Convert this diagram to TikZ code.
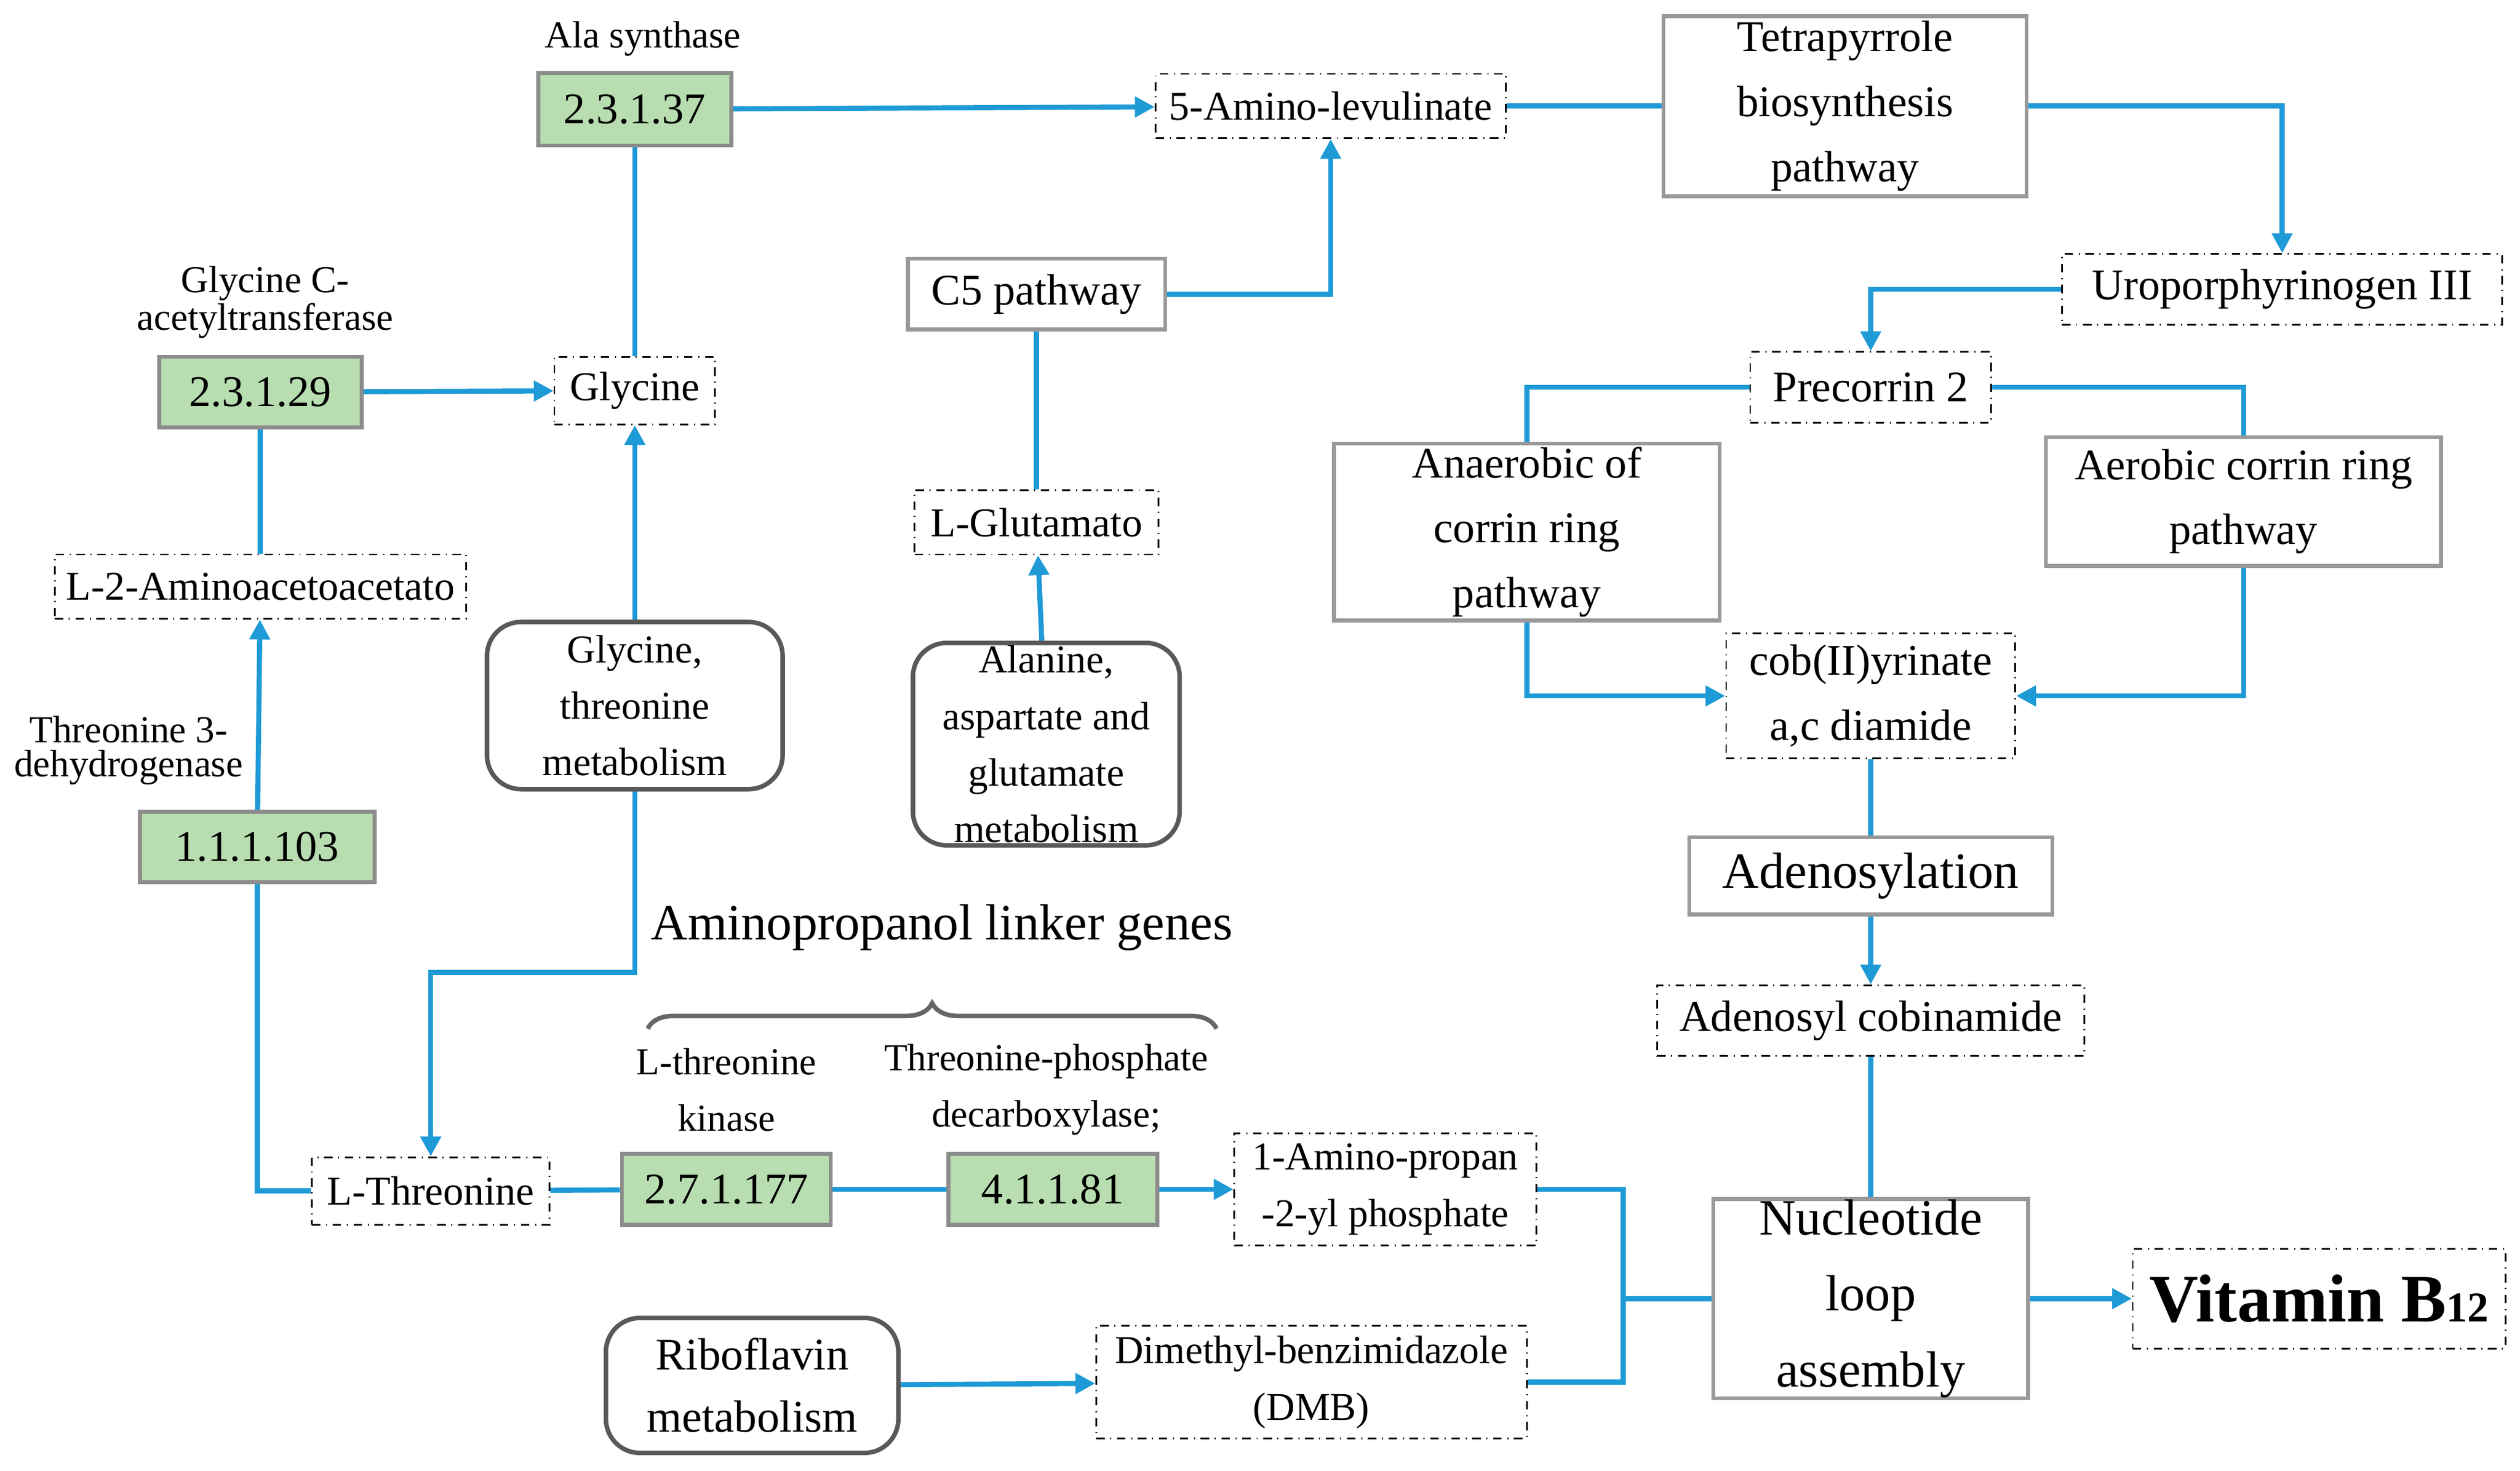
\documentclass[tikz,border=0pt]{standalone}
\usepackage{fontspec}
\setmainfont{Liberation Serif}
\usetikzlibrary{arrows.meta,decorations.pathreplacing}
\definecolor{lblue}{HTML}{1E9AD6}
\definecolor{gfill}{HTML}{B8DDB0}
\begin{document}
\begin{tikzpicture}[x=0.02cm,y=-0.02cm,
 font=\fontsize{14.5}{18.5}\selectfont,
 dd/.style={draw=black,dash dot,line width=0.6pt,align=center,inner sep=0pt},
 sol/.style={draw=black!40,line width=1.4pt,align=center,inner sep=0pt},
 grn/.style={draw=black!45,fill=gfill,line width=1.4pt,align=center,inner sep=0pt,font=\fontsize{15.5}{18}\selectfont},
 rnd/.style={draw=black!65,line width=1.6pt,rounded corners=12pt,align=center,inner sep=0pt},
 lbl/.style={align=center,inner sep=0pt,font=\fontsize{13.5}{12}\selectfont},
 ln/.style={lblue,line width=1.8pt},
 ar/.style={ln,-{Triangle[length=7pt,width=7pt]}}]
\useasboundingbox (0,0) rectangle (1568,915);
\node[lbl] (la) at (400,24) {Ala synthase};
\node[grn,minimum width=2.4cm,minimum height=0.9cm] (e1) at (395,68) {2.3.1.37};
\node[dd,minimum width=4.36cm,minimum height=0.8cm] (a5) at (828,66) {5-Amino-levulinate};
\node[sol,minimum width=4.52cm,minimum height=2.24cm,font=\fontsize{15.5}{23}\selectfont] (tp) at (1148,66) {Tetrapyrrole\\biosynthesis\\pathway};
\node[dd,minimum width=5.48cm,minimum height=0.88cm,font=\fontsize{15.5}{18}\selectfont] (uro) at (1420,180) {Uroporphyrinogen III};
\node[sol,minimum width=3.2cm,minimum height=0.88cm,font=\fontsize{15.5}{18}\selectfont] (c5) at (645,183) {C5 pathway};
\node[lbl] (gl) at (165,188) {Glycine C-\\acetyltransferase};
\node[grn,minimum width=2.52cm,minimum height=0.88cm] (e2) at (162,244) {2.3.1.29};
\node[dd,minimum width=2cm,minimum height=0.84cm] (gly) at (395,243) {Glycine};
\node[dd,minimum width=3cm,minimum height=0.88cm,font=\fontsize{15.5}{18}\selectfont] (p2) at (1164,241) {Precorrin 2};
\node[sol,minimum width=4.8cm,minimum height=2.2cm,font=\fontsize{15.5}{23}\selectfont] (an) at (950,331) {Anaerobic of\\corrin ring\\pathway};
\node[sol,minimum width=4.92cm,minimum height=1.6cm,font=\fontsize{15.5}{23}\selectfont] (ae) at (1396,312) {Aerobic corrin ring\\pathway};
\node[dd,minimum width=3.04cm,minimum height=0.8cm] (lg) at (645,325) {L-Glutamato};
\node[dd,minimum width=5.12cm,minimum height=0.8cm] (l2) at (162,365) {L-2-Aminoacetoacetato};
\node[rnd,minimum width=3.68cm,minimum height=2.08cm,font=\fontsize{14}{20}\selectfont] (gm) at (395,439) {Glycine,\\threonine\\metabolism};
\node[rnd,minimum width=3.32cm,minimum height=2.52cm,font=\fontsize{14}{20}\selectfont] (am) at (651,463) {Alanine,\\aspartate and\\glutamate\\metabolism};
\node[dd,minimum width=3.6cm,minimum height=1.56cm,font=\fontsize{15.5}{23}\selectfont] (cob) at (1164,433) {cob(II)yrinate\\a,c diamide};
\node[lbl] (tl) at (80,467) {Threonine 3-\\dehydrogenase};
\node[grn,minimum width=2.92cm,minimum height=0.88cm] (e3) at (160,527) {1.1.1.103};
\node[sol,minimum width=4.52cm,minimum height=0.96cm,font=\fontsize{18}{20}\selectfont] (ad) at (1164,545) {Adenosylation};
\node[inner sep=0pt,font=\fontsize{18}{20}\selectfont] (apl) at (586,577) {Aminopropanol linker genes};
\draw[black!60,line width=1.6pt,decoration={brace,amplitude=9pt},decorate] (403,640) -- (757,640);
\node[dd,minimum width=5.32cm,minimum height=0.88cm,font=\fontsize{15.5}{18}\selectfont] (adc) at (1164,635) {Adenosyl cobinamide};
\node[lbl,font=\fontsize{13.5}{20}\selectfont] (lk) at (452,678) {L-threonine\\kinase};
\node[lbl,font=\fontsize{13.5}{20}\selectfont] (td) at (651,678) {Threonine-phosphate\\decarboxylase;};
\node[dd,minimum width=2.96cm,minimum height=0.84cm] (lt) at (268,741) {L-Threonine};
\node[grn,minimum width=2.6cm,minimum height=0.88cm] (e4) at (452,740) {2.7.1.177};
\node[grn,minimum width=2.6cm,minimum height=0.88cm] (e5) at (655,740) {4.1.1.81};
\node[dd,minimum width=3.76cm,minimum height=1.4cm,font=\fontsize{14}{20}\selectfont] (ap) at (862,740) {1-Amino-propan\\-2-yl phosphate};
\node[sol,minimum width=3.92cm,minimum height=2.48cm,font=\fontsize{18}{27}\selectfont] (nl) at (1164,808) {Nucleotide\\loop\\assembly};
\node[dd,minimum width=4.64cm,minimum height=1.24cm,font=\bfseries\fontsize{24}{26}\selectfont] (vit) at (1443,808) {Vitamin B{\fontsize{15}{15}\selectfont 12}};
\node[rnd,minimum width=3.64cm,minimum height=1.68cm,font=\fontsize{16}{22}\selectfont] (rb) at (468,862) {Riboflavin\\metabolism};
\node[dd,minimum width=5.36cm,minimum height=1.4cm,font=\fontsize{14}{20}\selectfont] (dmb) at (816,860) {Dimethyl-benzimidazole\\(DMB)};
\coordinate (j) at (1010,808);
\draw[ar] (e1) -- (a5);
\draw[ln] (a5) -- (tp);
\draw[ar] (tp.east) -| (uro.north);
\draw[ar] (uro.west) -| (p2.north);
\draw[ar] (c5.east) -| (a5.south);
\draw[ln] (lg) -- (c5);
\draw[ar] (am) -- (lg);
\draw[ln] (gly) -- (e1);
\draw[ar] (e2) -- (gly);
\draw[ln] (l2) -- (e2);
\draw[ar] (e3) -- (l2);
\draw[ar] (gm) -- (gly);
\draw[ar] (gm.south) |- (332,605) -| (lt.north);
\draw[ln] (lt.west) -| (e3.south);
\draw[ln] (lt) -- (e4);
\draw[ln] (e4) -- (e5);
\draw[ar] (e5) -- (ap);
\draw[ln] (p2.west) -| (an.north);
\draw[ln] (p2.east) -| (ae.north);
\draw[ar] (an.south) |- (cob.west);
\draw[ar] (ae.south) |- (cob.east);
\draw[ln] (cob) -- (ad);
\draw[ar] (ad) -- (adc);
\draw[ln] (adc) -- (nl);
\draw[ln] (ap.east) -| (j);
\draw[ln] (dmb.east) -| (j) -- (nl.west);
\draw[ar] (nl) -- (vit);
\draw[ar] (rb) -- (dmb);
\end{tikzpicture}
\end{document}
